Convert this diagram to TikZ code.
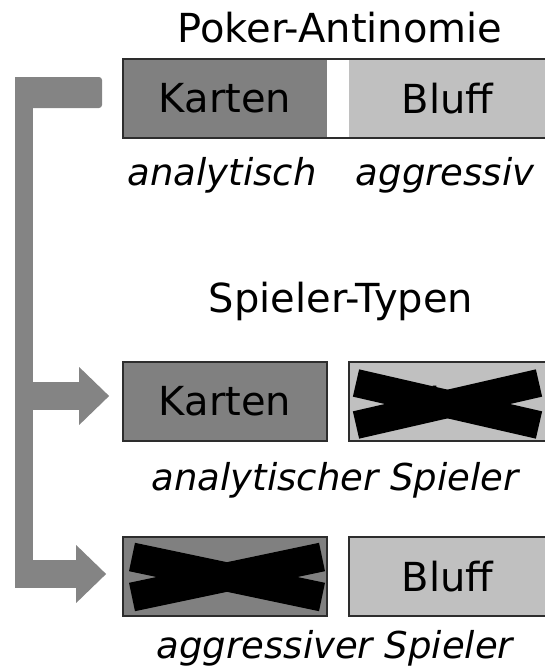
\documentclass[tikz,border=0pt]{standalone}
\usepackage{fontspec}
\setmainfont{DejaVu Sans}
\usepackage{tikz}
\usetikzlibrary{arrows.meta, calc}
\definecolor{cardDark}{RGB}{128,128,128}
\definecolor{cardLight}{RGB}{192,192,192}
\definecolor{brkGray}{RGB}{132,132,132}
\definecolor{frameCol}{RGB}{45,45,45}
\newcommand{\cardfont}{\fontsize{40}{48}\selectfont}
\newcommand{\headfont}{\fontsize{40}{48}\selectfont}
\newcommand{\labfont}{\fontsize{37}{44}\selectfont\itshape}
\tikzstyle{card} = [inner sep=0pt, minimum height=79pt, font=\cardfont, text=black]
\tikzstyle{darkcard} = [card, fill=cardDark, minimum width=204pt]
\tikzstyle{lightcard} = [card, fill=cardLight, minimum width=197pt]
\tikzstyle{boxed} = [draw=frameCol, line width=1.6pt]
\tikzstyle{head} = [anchor=base, font=\headfont, text=black]
\tikzstyle{lab} = [anchor=base, font=\labfont, text=black]
\tikzstyle{arrow} = [draw=brkGray, line width=28pt, -{Triangle[length=30pt,width=56pt]}]
\tikzstyle{cross} = [draw=black, line width=28pt]

\begin{document}
\begin{tikzpicture}[x=1pt,y=-1pt]
        \useasboundingbox (0,0) rectangle (544,672);

        % Poker-Antinomie
        \node[head] (title) at (340,42) {Poker-Antinomie};
        \node[darkcard] (K1) at (225,98.5) {Karten};
        \node[lightcard] (B1) at (447.5,98.5) {Bluff};
        \draw[boxed] (K1.north west) rectangle (B1.south east);
        \node[lab] (an) at (222,185) {analytisch};
        \node[lab] (ag) at (445,185) {aggressiv};

        % Spieler-Typen
        \node[head] (types) at (341,312) {Spieler-Typen};
        \node[darkcard,boxed] (K2) at (225,401.5) {Karten};
        \node[lightcard,boxed] (B2) at (447.5,401.5) {Bluff};
        \draw[cross] (356,383) -- (539,425);
        \draw[cross] (356,425) -- (539,383);
        \node[lab] (anS) at (335,490) {analytischer Spieler};

        \node[darkcard,boxed] (K3) at (225,576.5) {Karten};
        \node[lightcard,boxed] (B3) at (447.5,576.5) {Bluff};
        \draw[cross,line width=29pt] (132,557) -- (322,597);
        \draw[cross,line width=29pt] (132,597) -- (322,557);
        \node[lab] (agS) at (335,658) {aggressiver Spieler};

        % bracket
        \coordinate (bar2) at (24,396);
        \coordinate (bar3) at (15,574);
        \fill[brkGray,rounded corners=3pt] (15,77) rectangle (102,108);
        \fill[brkGray] (15,77) rectangle (33,588);
        \draw[arrow,shorten >=13pt] (bar2) -- (bar2 -| K2.west);
        \draw[arrow,shorten >=16pt] (bar3) -- (bar3 -| K3.west);
    \end{tikzpicture}
\end{document}
